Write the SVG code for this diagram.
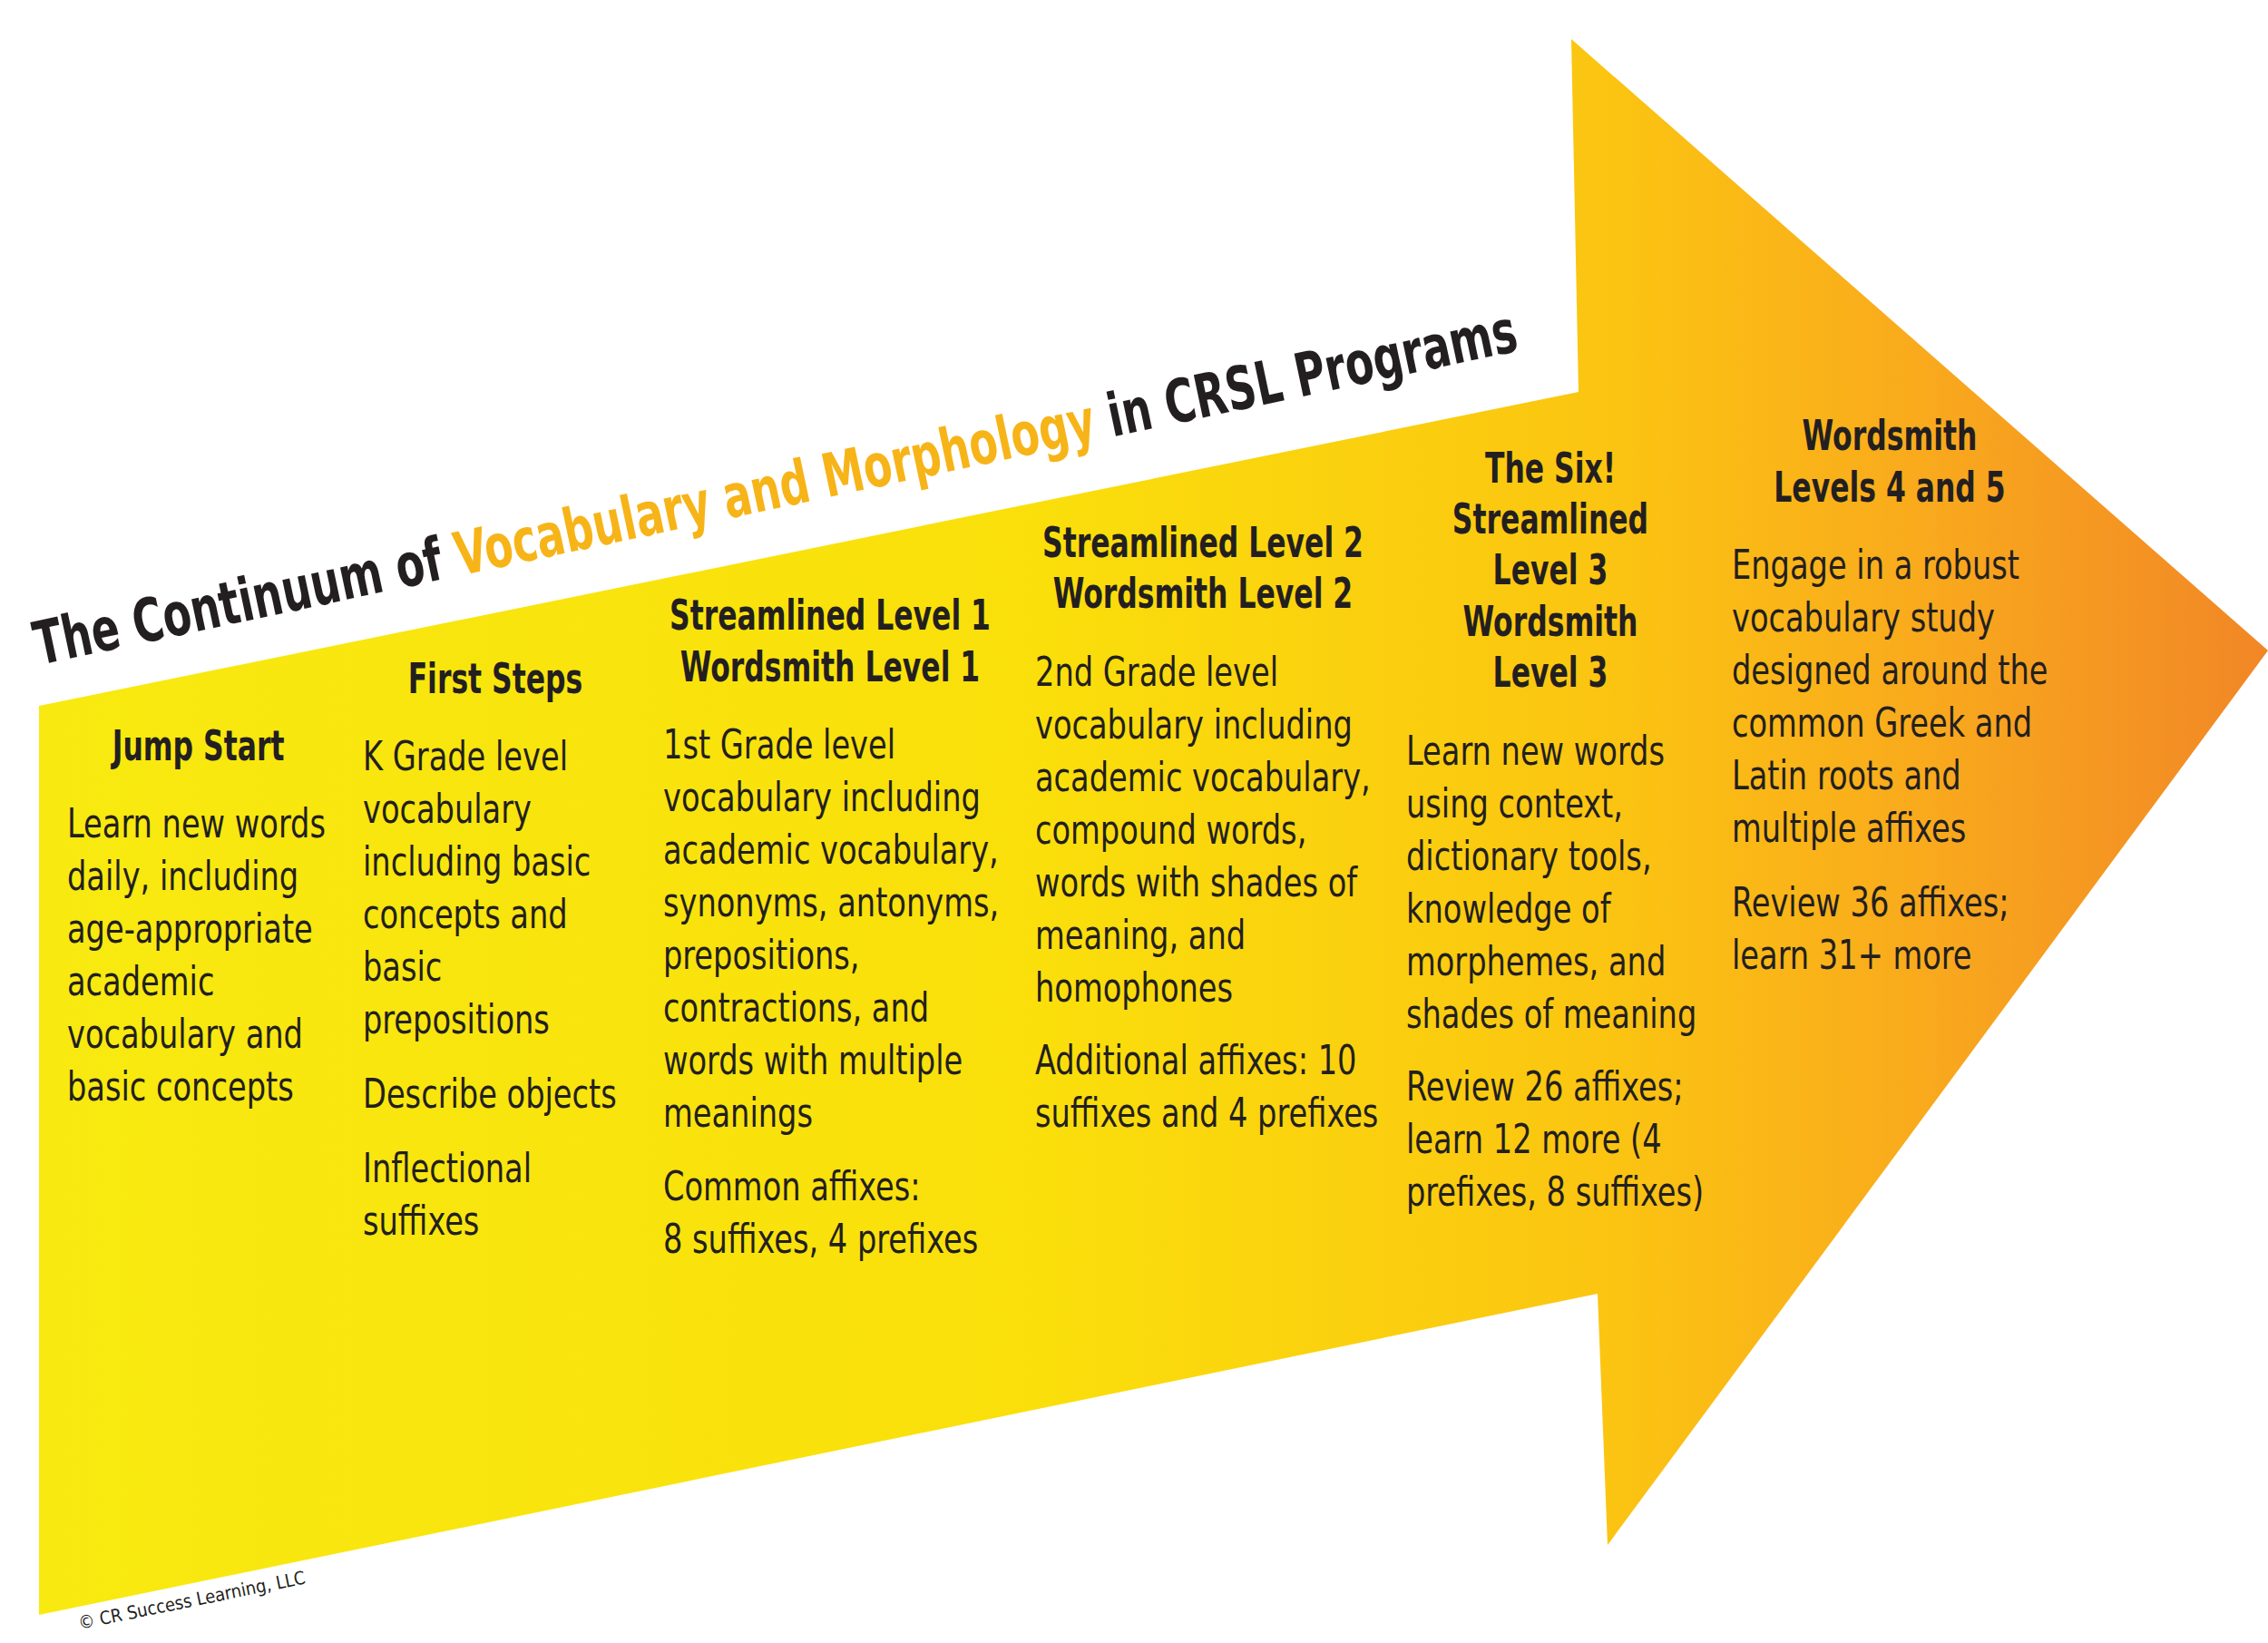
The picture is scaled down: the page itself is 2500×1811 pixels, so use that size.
<svg xmlns="http://www.w3.org/2000/svg" width="2500" height="1811" viewBox="0 0 2500 1811">
<defs>
<linearGradient id="g" x1="43" y1="0" x2="2500" y2="0" gradientUnits="userSpaceOnUse">
<stop offset="0" stop-color="#f8ea10"/><stop offset="0.45" stop-color="#fadf0b"/><stop offset="0.7" stop-color="#fbc511"/><stop offset="0.85" stop-color="#f9a91d"/><stop offset="1" stop-color="#f18626"/>
</linearGradient>
<style>
text{font-family:"Liberation Sans Narrow","DejaVu Sans Condensed","Liberation Sans",sans-serif;fill:#231f20}
.h{font-weight:bold;font-size:46px;text-anchor:middle;transform-box:fill-box;transform-origin:50% 0;transform:scaleX(0.76)}
.b{font-size:44px;transform-box:fill-box;transform-origin:0 0;transform:scaleX(0.85)}
</style>
</defs>
<path id="arrow" d="M43,778 L1740,432 L1732,43 L2500,717 L1772,1703 L1761,1426 L43,1780 Z" fill="url(#g)"/>
<g id="title" transform="rotate(-12 43 733)">
<text x="43" y="733" font-weight="bold" font-size="66" textLength="1669" lengthAdjust="spacingAndGlyphs">The Continuum of <tspan fill="#f7b418">Vocabulary and Morphology</tspan> in CRSL Programs</text>
</g>
<g id="jump-start">
<text class="h" x="219" y="838">Jump Start</text>
<text class="b" x="74" y="923">Learn new words</text><text class="b" x="74" y="981">daily, including</text><text class="b" x="74" y="1039">age-appropriate</text><text class="b" x="74" y="1097">academic</text><text class="b" x="74" y="1155">vocabulary and</text><text class="b" x="74" y="1213">basic concepts</text>
</g>
<g id="first-steps">
<text class="h" x="546" y="764">First Steps</text>
<text class="b" x="400" y="849">K Grade level</text><text class="b" x="400" y="907">vocabulary</text><text class="b" x="400" y="965">including basic</text><text class="b" x="400" y="1023">concepts and</text><text class="b" x="400" y="1081">basic</text><text class="b" x="400" y="1139">prepositions</text>
<text class="b" x="400" y="1221">Describe objects</text>
<text class="b" x="400" y="1303">Inflectional</text><text class="b" x="400" y="1361">suffixes</text>
</g>
<g id="level1">
<text class="h" x="915" y="694">Streamlined Level 1</text><text class="h" x="915" y="751">Wordsmith Level 1</text>
<text class="b" x="731" y="836">1st Grade level</text><text class="b" x="731" y="894">vocabulary including</text><text class="b" x="731" y="952">academic vocabulary,</text><text class="b" x="731" y="1010">synonyms, antonyms,</text><text class="b" x="731" y="1068">prepositions,</text><text class="b" x="731" y="1126">contractions, and</text><text class="b" x="731" y="1184">words with multiple</text><text class="b" x="731" y="1242">meanings</text>
<text class="b" x="731" y="1323">Common affixes:</text><text class="b" x="731" y="1381">8 suffixes, 4 prefixes</text>
</g>
<g id="level2">
<text class="h" x="1326" y="614">Streamlined Level 2</text><text class="h" x="1326" y="670">Wordsmith Level 2</text>
<text class="b" x="1141" y="756">2nd Grade level</text><text class="b" x="1141" y="814">vocabulary including</text><text class="b" x="1141" y="872">academic vocabulary,</text><text class="b" x="1141" y="930">compound words,</text><text class="b" x="1141" y="988">words with shades of</text><text class="b" x="1141" y="1046">meaning, and</text><text class="b" x="1141" y="1104">homophones</text>
<text class="b" x="1141" y="1184">Additional affixes: 10</text><text class="b" x="1141" y="1242">suffixes and 4 prefixes</text>
</g>
<g id="level3">
<text class="h" x="1709" y="532">The Six!</text><text class="h" x="1709" y="588">Streamlined</text><text class="h" x="1709" y="644">Level 3</text><text class="h" x="1709" y="701">Wordsmith</text><text class="h" x="1709" y="757">Level 3</text>
<text class="b" x="1550" y="843">Learn new words</text><text class="b" x="1550" y="901">using context,</text><text class="b" x="1550" y="959">dictionary tools,</text><text class="b" x="1550" y="1017">knowledge of</text><text class="b" x="1550" y="1075">morphemes, and</text><text class="b" x="1550" y="1133">shades of meaning</text>
<text class="b" x="1550" y="1213">Review 26 affixes;</text><text class="b" x="1550" y="1271">learn 12 more (4</text><text class="b" x="1550" y="1329">prefixes, 8 suffixes)</text>
</g>
<g id="level45">
<text class="h" x="2083" y="496">Wordsmith</text><text class="h" x="2083" y="553">Levels 4 and 5</text>
<text class="b" x="1909" y="638">Engage in a robust</text><text class="b" x="1909" y="696">vocabulary study</text><text class="b" x="1909" y="754">designed around the</text><text class="b" x="1909" y="812">common Greek and</text><text class="b" x="1909" y="870">Latin roots and</text><text class="b" x="1909" y="928">multiple affixes</text>
<text class="b" x="1909" y="1010">Review 36 affixes;</text><text class="b" x="1909" y="1068">learn 31+ more</text>
</g>
<g id="connectors"/>
<text x="88" y="1796" font-size="20" transform="rotate(-11.5 88 1796)">© CR Success Learning, LLC</text>
</svg>
